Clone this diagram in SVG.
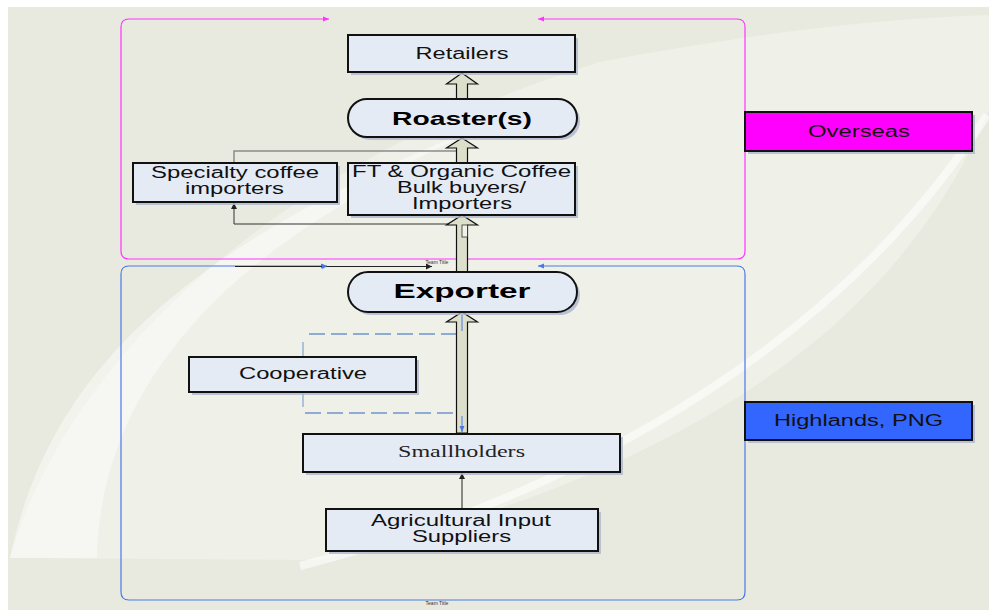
<svg xmlns="http://www.w3.org/2000/svg" width="989" height="610" viewBox="0 0 989 610">
<defs>
<style>
.box{fill:#e5ebf5;stroke:#111;stroke-width:2}
.shadow{fill:#aab6cc;opacity:0.8}
.t{font-family:"Liberation Sans",Arial,sans-serif;font-size:16px;fill:#111;text-anchor:middle}
.tb{font-family:"Liberation Sans",Arial,sans-serif;font-weight:bold;fill:#000;text-anchor:middle}
.ts{font-family:"Liberation Serif","Times New Roman",serif;font-size:16px;fill:#222;text-anchor:middle}
.blk{fill:#dcdfca;stroke:#111;stroke-width:1.2;stroke-linejoin:miter}
.tiny{font-family:"Liberation Sans",Arial,sans-serif;font-size:5px;fill:#333;text-anchor:middle}
</style>
<marker id="ah" markerWidth="6" markerHeight="6" refX="6" refY="3" orient="auto-start-reverse" markerUnits="userSpaceOnUse"><path d="M0,0 L6,3 L0,6 Z" fill="#222"/></marker>
<marker id="ahp" markerWidth="6" markerHeight="6" refX="6" refY="3" orient="auto-start-reverse" markerUnits="userSpaceOnUse"><path d="M0,0.5 L6,3 L0,5.5 Z" fill="#ff33ff"/></marker>
<marker id="ahb" markerWidth="6" markerHeight="6" refX="6" refY="3" orient="auto-start-reverse" markerUnits="userSpaceOnUse"><path d="M0,0.5 L6,3 L0,5.5 Z" fill="#4a78e8"/></marker>
</defs>

<!-- background -->
<rect x="0" y="0" width="989" height="610" fill="#ffffff"/>
<rect x="8" y="7" width="981" height="603" fill="#e9eadf"/>
<path d="M10,558 C60,380 250,170 600,62 C780,28 900,18 989,15 L989,110 C900,320 700,470 320,560 L10,558 Z" fill="#ffffff" opacity="0.3"/>
<path d="M10,558 C40,420 120,300 350,185 C420,150 480,125 520,112 C440,145 380,175 350,200 C180,300 100,420 97,558 Z" fill="#ffffff" opacity="0.45"/>
<path d="M300,566 C600,490 850,330 987,115" fill="none" stroke="#ffffff" stroke-width="8" opacity="0.55"/>

<!-- containers -->
<g id="overseas-container">
<path d="M538,19 L737,19 Q745,19 745,27 L745,251 Q745,259 737,259 L129,259 Q121,259 121,251 L121,27 Q121,19 129,19 L329,19" fill="none" stroke="#ff33ff" stroke-width="1.2" marker-start="url(#ahp)" marker-end="url(#ahp)"/>
<text class="tiny" x="437" y="264">Team Title</text>
</g>
<g id="highlands-container">
<path d="M538,266 L737,266 Q745,266 745,274 L745,592 Q745,600 737,600 L129,600 Q121,600 121,592 L121,274 Q121,266 129,266 L327,266" fill="none" stroke="#4a78e8" stroke-width="1.2" marker-start="url(#ahb)" marker-end="url(#ahb)"/>
<text class="tiny" x="437" y="605">Team Title</text>
</g>

<!-- connectors -->
<g id="connectors">
<line x1="235" y1="266.5" x2="432" y2="266.5" stroke="#222" stroke-width="1" marker-end="url(#ah)"/>
<path d="M327,266.5 l-5,-2.5 v5 z" fill="#4a78e8"/>
<path d="M234,163 L234,151 L463,151 L463,141" fill="none" stroke="#8a8a8a" stroke-width="1.5"/>
<path d="M463,224 L234,224 L234,203" fill="none" stroke="#333" stroke-width="1" marker-end="url(#ah)"/>
<path d="M457,334 L303,334 M305,413 L457,413" fill="none" stroke="#6f94d0" stroke-width="1.5" stroke-dasharray="16,6"/>
<path d="M303,342 L303,357 M303,392 L303,407" fill="none" stroke="#6f94d0" stroke-width="1"/>
<line x1="462" y1="509" x2="462" y2="473" stroke="#222" stroke-width="1" marker-end="url(#ah)"/>
<!-- block arrows -->
<path class="blk" d="M462,73 L477.5,84 L467.5,84 L467.5,99 L456.5,99 L456.5,84 L446.5,84 Z"/>
<path class="blk" d="M462,138 L477.5,148 L467.5,148 L467.5,163 L456.5,163 L456.5,148 L446.5,148 Z"/>
<path class="blk" d="M462,215 L477.5,225 L467.5,225 L467.5,272 L456.5,272 L456.5,225 L446.5,225 Z"/>
<rect x="462" y="225" width="5.5" height="12" fill="#f2f2ea" stroke="#333" stroke-width="0.8"/>
<path class="blk" d="M462,312 L477.5,322 L467.5,322 L467.5,433 L456.5,433 L456.5,322 L446.5,322 Z"/>
<line x1="462" y1="315" x2="462" y2="331" stroke="#4a78e8" stroke-width="1"/>
<line x1="462" y1="416" x2="462" y2="432" stroke="#4a78e8" stroke-width="1" marker-end="url(#ahb)"/>
</g>

<!-- nodes -->
<g id="retailers">
<rect class="shadow" x="351" y="38" width="227" height="37"/>
<rect class="box" x="348" y="35" width="227" height="37"/>
<text class="t" x="462" y="59" textLength="93" lengthAdjust="spacingAndGlyphs">Retailers</text>
</g>
<g id="roasters">
<rect class="shadow" x="351" y="102" width="229" height="38" rx="19"/>
<rect class="box" x="348" y="99" width="229" height="38" rx="19"/>
<text class="tb" x="462" y="125" font-size="19" textLength="140" lengthAdjust="spacingAndGlyphs">Roaster(s)</text>
</g>
<g id="specialty">
<rect class="shadow" x="136" y="166" width="204" height="39"/>
<rect class="box" x="133" y="163" width="204" height="39"/>
<text class="t" x="235" y="178" textLength="168" lengthAdjust="spacingAndGlyphs">Specialty coffee</text>
<text class="t" x="234.5" y="194" textLength="99" lengthAdjust="spacingAndGlyphs">importers</text>
</g>
<g id="ft-organic">
<rect class="shadow" x="351" y="166" width="227" height="52"/>
<rect class="box" x="348" y="163" width="227" height="52"/>
<text class="t" x="461.5" y="177" textLength="219" lengthAdjust="spacingAndGlyphs">FT &amp; Organic Coffee</text>
<text class="t" x="461.5" y="193" textLength="129" lengthAdjust="spacingAndGlyphs">Bulk buyers/</text>
<text class="t" x="462" y="209" textLength="100" lengthAdjust="spacingAndGlyphs">Importers</text>
</g>
<g id="exporter">
<rect class="shadow" x="351" y="275" width="229" height="40" rx="20"/>
<rect class="box" x="348" y="272" width="229" height="40" rx="20" stroke-width="2.5"/>
<text class="tb" x="462" y="298" font-size="21" textLength="137" lengthAdjust="spacingAndGlyphs">Exporter</text>
</g>
<g id="cooperative">
<rect class="shadow" x="192" y="360" width="227" height="35"/>
<rect class="box" x="189" y="357" width="227" height="35"/>
<text class="t" x="303" y="379" textLength="128" lengthAdjust="spacingAndGlyphs">Cooperative</text>
</g>
<g id="smallholders">
<rect class="shadow" x="306" y="437" width="317" height="38"/>
<rect class="box" x="303" y="434" width="317" height="38"/>
<text class="ts" x="461.5" y="457" textLength="127" lengthAdjust="spacingAndGlyphs">Smallholders</text>
</g>
<g id="agri-suppliers">
<rect class="shadow" x="329" y="512" width="272" height="42"/>
<rect class="box" x="326" y="509" width="272" height="42"/>
<text class="t" x="461" y="526" textLength="180" lengthAdjust="spacingAndGlyphs">Agricultural Input</text>
<text class="t" x="461.5" y="542" textLength="99" lengthAdjust="spacingAndGlyphs">Suppliers</text>
</g>
<g id="overseas-label">
<rect class="shadow" x="748" y="115" width="227" height="39"/>
<rect class="box" x="745" y="112" width="227" height="39" style="fill:#ff00ff"/>
<text class="t" x="859" y="137" textLength="102" lengthAdjust="spacingAndGlyphs">Overseas</text>
</g>
<g id="highlands-label">
<rect class="shadow" x="748" y="405" width="227" height="38"/>
<rect class="box" x="745" y="402" width="227" height="38" style="fill:#3366ff"/>
<text class="t" x="858.5" y="426" textLength="169" lengthAdjust="spacingAndGlyphs">Highlands, PNG</text>
</g>
</svg>
